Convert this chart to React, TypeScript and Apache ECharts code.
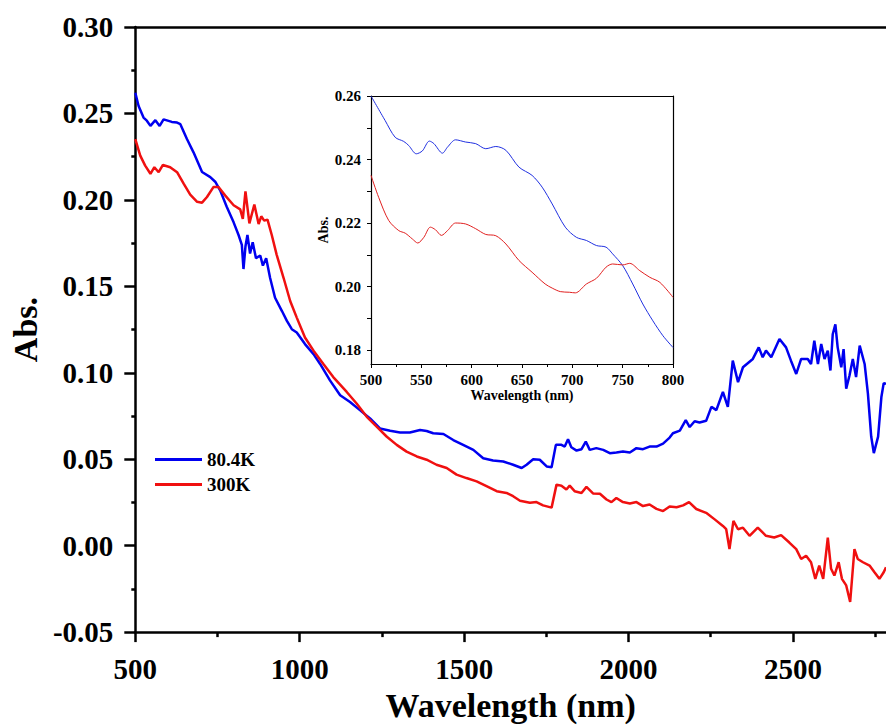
import React, { useEffect, useRef } from "react";
import * as echarts from "echarts";

// Main chart: [wavelength (nm), absorbance]
const blue80K: [number, number][] = [
  [500, 0.262], [510, 0.2543], [525, 0.2476], [535, 0.2458], [546, 0.2428], [561, 0.2461], [574, 0.2428],
  [586, 0.2466], [611, 0.2451], [627, 0.2447], [637, 0.2438], [657, 0.2352], [677, 0.2275], [703, 0.2161],
  [728, 0.2132], [743, 0.2105], [758, 0.2055], [778, 0.196], [799, 0.187], [814, 0.1797], [824, 0.174],
  [829, 0.16], [835, 0.173], [841, 0.1797], [849, 0.169], [857, 0.1755], [867, 0.1663], [880, 0.1678],
  [888, 0.162], [898, 0.1663], [910, 0.1548], [925, 0.1434], [946, 0.1357], [961, 0.13], [976, 0.1252],
  [991, 0.1233], [1016, 0.1166], [1042, 0.1108], [1062, 0.1051], [1092, 0.0956], [1123, 0.087],
  [1153, 0.0831], [1183, 0.0784], [1214, 0.0736], [1244, 0.0678], [1275, 0.0665], [1305, 0.0655],
  [1335, 0.0655], [1366, 0.0669], [1386, 0.0663], [1406, 0.065], [1437, 0.0646], [1467, 0.0611],
  [1497, 0.0583], [1528, 0.0554], [1558, 0.0506], [1588, 0.0493], [1619, 0.0487], [1649, 0.0468],
  [1675, 0.0449], [1690, 0.0468], [1710, 0.05], [1730, 0.0497], [1751, 0.0458], [1766, 0.0454],
  [1779, 0.0583], [1796, 0.0583], [1806, 0.0573], [1816, 0.0615], [1826, 0.0569], [1842, 0.055],
  [1857, 0.0558], [1870, 0.0602], [1882, 0.0554], [1902, 0.0564], [1923, 0.0554], [1943, 0.0535],
  [1963, 0.0539], [1983, 0.0544], [2004, 0.0539], [2024, 0.0564], [2044, 0.0558], [2064, 0.0573],
  [2085, 0.0573], [2105, 0.059], [2125, 0.0625], [2135, 0.065], [2156, 0.0665], [2174, 0.0726],
  [2186, 0.0686], [2201, 0.072], [2216, 0.0712], [2236, 0.0722], [2252, 0.0803], [2267, 0.0784],
  [2287, 0.0889], [2302, 0.0803], [2317, 0.107], [2333, 0.0946], [2348, 0.1032], [2378, 0.108],
  [2396, 0.1147], [2408, 0.109], [2418, 0.1128], [2434, 0.109], [2459, 0.1195], [2479, 0.1147],
  [2494, 0.107], [2510, 0.0993], [2525, 0.108], [2545, 0.108], [2555, 0.1051], [2565, 0.1185],
  [2576, 0.1051], [2586, 0.1166], [2596, 0.108], [2606, 0.1128], [2614, 0.1013], [2621, 0.1223],
  [2629, 0.128], [2636, 0.1147], [2647, 0.1032], [2654, 0.1137], [2662, 0.0908], [2672, 0.0984],
  [2682, 0.108], [2692, 0.0975], [2703, 0.1157], [2718, 0.1051], [2728, 0.0879], [2738, 0.0631],
  [2746, 0.0535], [2759, 0.0631], [2769, 0.086], [2776, 0.094], [2783, 0.0936],
];

const red300K: [number, number][] = [
  [500, 0.2352], [515, 0.2256], [530, 0.2198], [546, 0.2151], [558, 0.2189], [571, 0.216], [584, 0.2202],
  [606, 0.2189], [627, 0.216], [647, 0.2094], [667, 0.203], [688, 0.1989], [703, 0.1984], [718, 0.2017],
  [738, 0.2075], [753, 0.2075], [773, 0.2026], [799, 0.1969], [819, 0.1945], [827, 0.189], [835, 0.2049],
  [847, 0.1864], [862, 0.1973], [875, 0.186], [883, 0.1905], [892, 0.188], [902, 0.1886], [915, 0.1797],
  [930, 0.1682], [951, 0.1548], [971, 0.1415], [991, 0.1319], [1016, 0.1204], [1042, 0.1128],
  [1072, 0.1051], [1102, 0.0975], [1143, 0.0889], [1173, 0.0822], [1204, 0.0745], [1234, 0.0688],
  [1265, 0.063], [1295, 0.0583], [1325, 0.0544], [1356, 0.0516], [1386, 0.0497], [1416, 0.0468],
  [1447, 0.0449], [1477, 0.0411], [1507, 0.0391], [1538, 0.0372], [1568, 0.0344], [1599, 0.0315],
  [1629, 0.0305], [1649, 0.0286], [1670, 0.026], [1700, 0.0248], [1720, 0.0252], [1740, 0.0233],
  [1766, 0.022], [1781, 0.0353], [1796, 0.0347], [1811, 0.0325], [1821, 0.0347], [1836, 0.0315],
  [1857, 0.0305], [1872, 0.034], [1892, 0.0302], [1913, 0.03], [1933, 0.0267], [1948, 0.0252],
  [1963, 0.0276], [1983, 0.0252], [2004, 0.0244], [2024, 0.0252], [2044, 0.0229], [2064, 0.0238],
  [2085, 0.0213], [2105, 0.02], [2125, 0.0227], [2146, 0.0222], [2166, 0.0233], [2184, 0.0252],
  [2206, 0.0212], [2236, 0.019], [2262, 0.0152], [2287, 0.0114], [2297, 0.0095], [2307, -0.002],
  [2319, 0.0143], [2333, 0.0095], [2348, 0.0104], [2368, 0.0057], [2393, 0.0104], [2418, 0.0057],
  [2443, 0.0047], [2464, 0.0061], [2489, 0.0018], [2510, -0.002], [2525, -0.0077], [2540, -0.0058],
  [2555, -0.0096], [2568, -0.0192], [2580, -0.0115], [2592, -0.0192], [2606, 0.0047], [2616, -0.0134],
  [2626, -0.0173], [2639, -0.0096], [2649, -0.0192], [2662, -0.023], [2674, -0.0326], [2687, -0.002],
  [2697, -0.0077], [2713, -0.0096], [2733, -0.0115], [2748, -0.0154], [2763, -0.0192], [2776, -0.0154],
  [2783, -0.0125],
];

// Inset (500-800 nm)
const blueInset: [number, number][] = [
  [500, 0.26], [514, 0.2523], [524, 0.247], [532.5, 0.2457], [537.5, 0.2444], [545, 0.2418], [551, 0.2427],
  [558, 0.2458], [562.5, 0.245], [571, 0.242], [576, 0.2439], [584, 0.2462], [594, 0.2455], [604, 0.245],
  [614, 0.2434], [624, 0.2441], [634, 0.2429], [647, 0.2376], [660, 0.235], [670, 0.2313], [680, 0.226],
  [693, 0.2187], [704, 0.2155], [714, 0.2145], [724, 0.2129], [733.5, 0.2124], [740, 0.2103],
  [750, 0.2066], [760, 0.2008], [770, 0.1945], [780, 0.1892], [790, 0.1845], [800, 0.1808],
];
const redInset: [number, number][] = [
  [500, 0.235], [507.6, 0.2281], [517.6, 0.2208], [527.6, 0.2176], [534, 0.2168], [541, 0.215],
  [546.5, 0.2137], [552.5, 0.2155], [559, 0.2187], [564, 0.2179], [570, 0.2161], [576, 0.2176],
  [584, 0.22], [594, 0.2197], [604, 0.2182], [614, 0.2164], [624, 0.216], [634, 0.2134], [647, 0.2082],
  [660, 0.2045], [673, 0.2008], [680, 0.1995], [688, 0.1984], [697, 0.1982], [703, 0.198], [714, 0.2008],
  [724, 0.2026], [733.5, 0.2061], [740, 0.2071], [750, 0.2068], [757, 0.2073], [767, 0.205], [777, 0.2029],
  [787, 0.2013], [800, 0.1966],
];

const mainXMajor = [500, 1000, 1500, 2000, 2500];
const mainXMinor = [750, 1250, 1750, 2250, 2750];
const insetYLabels = [0.18, 0.2, 0.22, 0.24, 0.26];
const insetYTicks = [0.18, 0.19, 0.2, 0.21, 0.22, 0.23, 0.24, 0.25, 0.26];

const FONT = "'Liberation Serif', 'Times New Roman', serif";
const BLUE = "#0000f0";
const RED = "#f01010";

export default function App() {
  const ref = useRef<HTMLDivElement>(null);
  useEffect(() => {
    if (!ref.current) return;
    const chart = echarts.init(ref.current, null, { renderer: "svg" });
    const black = "#000";
    const option: any = {
      animation: false,
      backgroundColor: "#fff",
      grid: [
        { left: 135, top: 27, right: 0, height: 610 },
        { left: 371, top: 96, width: 302, height: 268 },
      ],
      legend: {
        orient: "vertical",
        left: 155,
        top: 450,
        padding: 0,
        itemWidth: 47,
        itemHeight: 3,
        itemGap: 6,
        icon: "rect",
        data: ["80.4K", "300K"],
        textStyle: { fontFamily: FONT, fontWeight: "bold", fontSize: 19, color: black },
      },
      xAxis: [
        {
          gridIndex: 0,
          type: "value",
          position: "bottom",
          min: 500,
          max: 2783,
          splitLine: { show: false },
          axisLine: { show: true, onZero: false, lineStyle: { color: black, width: 2.5 } },
          axisTick: { show: true, length: 10, lineStyle: { width: 2.5, color: black }, customValues: mainXMajor },
          axisLabel: {
            customValues: mainXMajor,
            formatter: (v: number) => String(v),
            fontFamily: FONT,
            fontWeight: "bold",
            fontSize: 29,
            color: black,
            margin: 22,
          },
          name: "Wavelength (nm)",
          nameLocation: "middle",
          nameGap: 52,
          nameTextStyle: { fontFamily: FONT, fontWeight: "bold", fontSize: 34, color: black },
        },
        {
          gridIndex: 0,
          type: "value",
          position: "bottom",
          min: 500,
          max: 2783,
          splitLine: { show: false },
          axisLine: { show: false, onZero: false },
          axisTick: { show: true, length: 5, lineStyle: { width: 2.5, color: black }, customValues: mainXMinor },
          axisLabel: { show: false },
        },
        {
          gridIndex: 0,
          type: "value",
          position: "top",
          min: 500,
          max: 2783,
          splitLine: { show: false },
          axisLine: { show: true, onZero: false, lineStyle: { color: black, width: 2.5 } },
          axisTick: { show: false },
          axisLabel: { show: false },
        },
        {
          gridIndex: 1,
          type: "value",
          position: "bottom",
          min: 500,
          max: 800,
          interval: 50,
          splitLine: { show: false },
          axisLine: { show: true, onZero: false, lineStyle: { color: black, width: 1.2 } },
          axisTick: { show: true, length: 4, lineStyle: { width: 1, color: black } },
          minorTick: { show: true, splitNumber: 2, length: 3, lineStyle: { width: 1, color: black } },
          axisLabel: {
            formatter: (v: number) => String(v),
            fontFamily: FONT,
            fontWeight: "bold",
            fontSize: 15,
            color: black,
            margin: 8,
          },
          name: "Wavelength (nm)",
          nameLocation: "middle",
          nameGap: 24,
          nameTextStyle: { fontFamily: FONT, fontWeight: "bold", fontSize: 14, color: black },
        },
        {
          gridIndex: 1,
          type: "value",
          position: "top",
          min: 500,
          max: 800,
          splitLine: { show: false },
          axisLine: { show: true, onZero: false, lineStyle: { color: black, width: 1.2 } },
          axisTick: { show: false },
          axisLabel: { show: false },
        },
      ],
      yAxis: [
        {
          gridIndex: 0,
          type: "value",
          min: -0.05,
          max: 0.3,
          interval: 0.05,
          splitLine: { show: false },
          axisLine: { show: true, onZero: false, lineStyle: { color: black, width: 2.5 } },
          axisTick: { show: true, length: 11, lineStyle: { width: 2.5, color: black } },
          minorTick: { show: true, splitNumber: 2, length: 4, lineStyle: { width: 2.5, color: black } },
          axisLabel: {
            formatter: (v: number) => v.toFixed(2),
            fontFamily: FONT,
            fontWeight: "bold",
            fontSize: 29,
            color: black,
            margin: 22,
          },
          name: "Abs.",
          nameLocation: "middle",
          nameGap: 92,
          nameTextStyle: { fontFamily: FONT, fontWeight: "bold", fontSize: 34, color: black },
        },
        {
          gridIndex: 1,
          type: "value",
          min: 0.1756,
          max: 0.26,
          splitLine: { show: false },
          axisLine: { show: true, onZero: false, lineStyle: { color: black, width: 1.2 } },
          axisTick: { show: true, length: 4, lineStyle: { width: 1, color: black }, customValues: insetYTicks },
          axisLabel: {
            customValues: insetYLabels,
            formatter: (v: number) => v.toFixed(2),
            fontFamily: FONT,
            fontWeight: "bold",
            fontSize: 15,
            color: black,
            margin: 10,
          },
          name: "Abs.",
          nameLocation: "middle",
          nameGap: 30,
          nameTextStyle: { fontFamily: FONT, fontWeight: "bold", fontSize: 14, color: black },
        },
        {
          gridIndex: 1,
          type: "value",
          position: "right",
          min: 0.1756,
          max: 0.26,
          splitLine: { show: false },
          axisLine: { show: true, onZero: false, lineStyle: { color: black, width: 1.2 } },
          axisTick: { show: false },
          axisLabel: { show: false },
        },
      ],
      series: [
        {
          name: "80.4K",
          type: "line",
          xAxisIndex: 0,
          yAxisIndex: 0,
          data: blue80K,
          showSymbol: false,
          symbol: "none",
          color: BLUE,
          lineStyle: { width: 2.5, color: BLUE },
        },
        {
          name: "300K",
          type: "line",
          xAxisIndex: 0,
          yAxisIndex: 0,
          data: red300K,
          showSymbol: false,
          symbol: "none",
          color: RED,
          lineStyle: { width: 2.5, color: RED },
        },
        {
          name: "80.4K",
          type: "line",
          xAxisIndex: 3,
          yAxisIndex: 1,
          data: blueInset,
          smooth: 0.3,
          showSymbol: false,
          symbol: "none",
          color: BLUE,
          lineStyle: { width: 1, color: "#2030e0" },
        },
        {
          name: "300K",
          type: "line",
          xAxisIndex: 3,
          yAxisIndex: 1,
          data: redInset,
          smooth: 0.3,
          showSymbol: false,
          symbol: "none",
          color: RED,
          lineStyle: { width: 1, color: "#e02020" },
        },
      ],
    };
    chart.setOption(option);
    return () => chart.dispose();
  }, []);
  return (
    <div
      ref={ref}
      style={{ position: "absolute", left: 0, top: 0, width: 886, height: 727, background: "#fff" }}
    />
  );
}
